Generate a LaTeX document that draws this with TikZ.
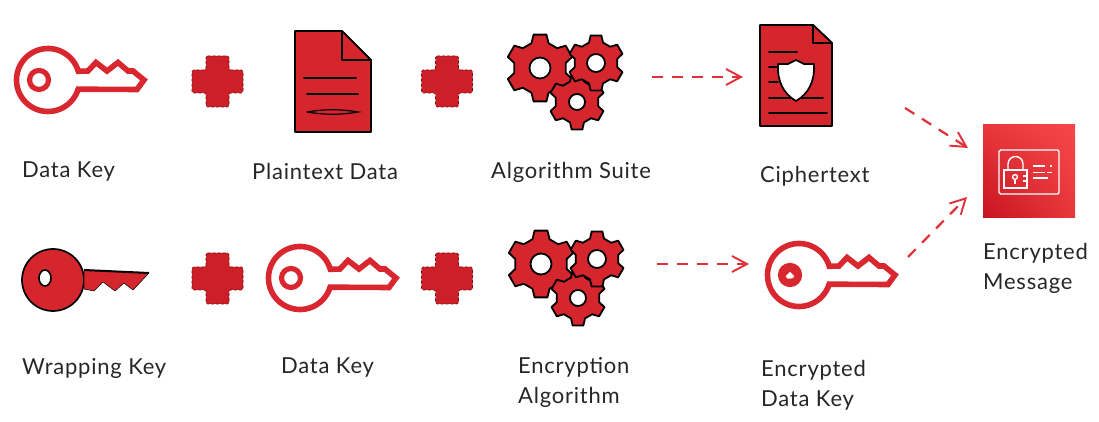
\documentclass[tikz,border=0pt]{standalone}
\usepackage{fontspec}
\setmainfont[LetterSpace=3.5]{Lato}
\usetikzlibrary{arrows.meta, positioning, calc, shadings}
\definecolor{keyred}{HTML}{D9272F}
\definecolor{plusred}{HTML}{CD1F28}
\definecolor{docred}{HTML}{D5252D}
\definecolor{flowred}{HTML}{E0303A}
\definecolor{cardlow}{HTML}{C7131F}
\definecolor{cardhigh}{HTML}{F54749}

\begin{document}
\begin{tikzpicture}[x=1pt, y=1pt,
        label/.style={anchor=west, inner sep=0pt, align=left, text=black!85, font=\fontsize{22}{30}\selectfont},
        plusbox/.style={fill=plusred, draw=plusred!55!black, densely dashed, line width=0.6pt, rounded corners=1.5pt},
        sheet/.style={fill=docred, draw=black, line width=1.7pt, line join=round},
        inkline/.style={draw=black, line width=1.7pt, line cap=round},
        gearline/.style={fill=docred, draw=black, line width=1.8pt, line join=round},
        flow/.style={draw=flowred, line width=2.2pt, dash pattern=on 11pt off 9pt, -{Straight Barb[length=15pt, width=16pt, line width=1.9pt]}},
        cardline/.style={draw=white, line width=1.4pt},
        keyoutline/.pic={
            \draw[keyred, line width=5.6pt, line join=miter]
                (-17:31.5) -- (89,-9.5) -- (96,0) -- (85,9) -- (80,9) -- (70,17.5) -- (59,9) -- (48,17.5) -- (40,9) -- (16:31.5)
                arc[start angle=16, end angle=343, radius=31.5] -- cycle;
            \draw[keyred, line width=5.2pt] (-9,0) circle[radius=9.5];
        },
        plussign/.pic={
            \path[plusbox] (-11.5,25.5) -- (11.5,25.5) -- (11.5,11.5) -- (25.5,11.5) -- (25.5,-11.5) -- (11.5,-11.5) -- (11.5,-25.5)
                -- (-11.5,-25.5) -- (-11.5,-11.5) -- (-25.5,-11.5) -- (-25.5,11.5) -- (-11.5,11.5) -- cycle;
        },
        gearset/.pic={
            \foreach \gx/\gy/\gr/\gh in {0/0/34/10.5, 37/-34/28/8, 56/5/28/9} {
                \begin{scope}[shift={(\gx,\gy)}]
                    \draw[gearline] (10:{0.77*\gr})
                        \foreach \a in {30,90,...,330} { -- ({\a-19}:{0.77*\gr}) -- ({\a-11}:\gr) -- ({\a+11}:\gr) -- ({\a+19}:{0.77*\gr}) } -- cycle;
                    \draw[fill=white, draw=black, line width=1.8pt] (0,0) circle[radius=\gh];
                \end{scope}
            }
        },
    ]
        \useasboundingbox (0,0) rectangle (1099,422);

        % Top row icons
        \pic at (48,342) {keyoutline};
        \pic at (217.5,340.5) {plussign};
        \path[sheet] (295,391) -- (342,391) -- (371,362) -- (371,290) -- (295,290) -- cycle;
        \path[sheet] (342,391) -- (342,362) -- (371,362) -- cycle;
        \draw[inkline] (304,344) -- (356,344);
        \draw[inkline] (307,328) -- (358,328);
        \draw[inkline, line width=1.2pt, fill=docred] (307,310) .. controls (325,313) and (340,313) .. (358,310) .. controls (340,307) and (325,307) .. (307,310);
        \pic at (447,340.5) {plussign};
        \pic at (540,354) {gearset};
        \path[sheet] (760,397) -- (813,397) -- (832,379) -- (832,296) -- (760,296) -- cycle;
        \path[sheet] (813,397) -- (813,379) -- (832,379) -- cycle;
        \draw[inkline] (769,370) -- (797,370);
        \draw[inkline] (769,355) -- (778,355);
        \draw[inkline] (769,340) -- (778,340);
        \draw[inkline] (769,324) -- (823,324);
        \draw[inkline] (769,309) -- (827,309);
        \draw[fill=white, draw=black, line width=1.7pt, line join=round] (778,358) -- (788,358) -- (796,362) -- (804,358) -- (814,358)
            .. controls (815,340) and (808,328) .. (796,321) .. controls (784,328) and (777,340) .. (778,358) -- cycle;

        % Bottom row icons
        \draw[fill=docred, draw=black, line width=1.7pt] (53,142) circle[radius=31];
        \path[fill=docred, draw=black, line width=0.5pt, line join=round] (84,152) -- (149,149) -- (133,132) -- (124,139) -- (115,131) -- (103,140) -- (94,131) -- (84,133) -- cycle;
        \draw[black, line width=2pt] (84,152) -- (149,149);
        \draw[fill=white, draw=black, line width=1.6pt] (45,144) ellipse[x radius=6, y radius=8];
        \pic at (217.5,143.5) {plussign};
        \pic at (300,144) {keyoutline};
        \pic at (447,143.5) {plussign};
        \pic at (541,158) {gearset};
        \pic at (799,147) {keyoutline};
        \draw[keyred, fill=keyred, line width=1.2pt] (790,147) circle[radius=9];
        \draw[fill=white, draw=keyred, line width=0.8pt] (785,146) -- (790,151) -- (795,146) -- (793,143) -- (787,143) -- cycle;
        \draw[keyred, line width=1.2pt] (784,141) -- (797,144);

        % Encrypted message icon
        \shade[lower left=cardlow, upper right=cardhigh, lower right=cardhigh!70!cardlow, upper left=cardhigh!70!cardlow] (983,204) rectangle (1075,297);
        \draw[cardline, rounded corners=1.5pt] (999,272) rectangle (1059,228);
        \draw[cardline] (1004,252) rectangle (1027,234);
        \draw[cardline] (1008,252) -- (1008,258) arc[start angle=180, end angle=0, radius=7.5] -- (1023,252);
        \draw[cardline] (1015,245) circle[radius=2.4];
        \draw[cardline] (1015,242.6) -- (1015,238);
        \draw[cardline] (1023,246) -- (1027,246);
        \draw[cardline] (1023,241) -- (1027,241);
        \draw[cardline] (1033,256) -- (1045,256);
        \draw[cardline] (1050,256) -- (1052,256);
        \draw[cardline] (1033,249.5) -- (1045,249.5);
        \draw[cardline] (1047,249.5) -- (1052,249.5);
        \draw[cardline] (1033,244) -- (1048,244);

        % Connector ends
        \coordinate (suiteout) at (652,345);
        \coordinate (cipherin) at (743,345);
        \coordinate (algoout) at (657,158);
        \coordinate (wrappedin) at (749,158);
        \coordinate (cipherout) at (905,314);
        \coordinate (wrappedout) at (908,165);
        \coordinate (messagetop) at (968,274);
        \coordinate (messagelow) at (967,225);

        % Data flow
        \draw[flow] (suiteout) -- (cipherin);
        \draw[flow] (algoout) -- (wrappedin);
        \draw[flow] (cipherout) -- (messagetop);
        \draw[flow] (wrappedout) -- (messagelow);

        % Labels
        \node[label] (datakeytop) at (22,250) {Data Key};
        \node[label] (plaintext) at (252,251) {Plaintext Data};
        \node[label] (suite) at (491,250) {Algorithm Suite};
        \node[label] (cipher) at (760,246) {Ciphertext};
        \node[label] (message) at (983,154) {Encrypted\\Message};
        \node[label] (wrapping) at (22,54) {Wrapping Key};
        \node[label] (datakeylow) at (281,54) {Data Key};
        \node[label] (algorithm) at (518,40) {Encryption\\Algorithm};
        \node[label] (wrapped) at (761,37) {Encrypted\\Data Key};
    \end{tikzpicture}
\end{document}
